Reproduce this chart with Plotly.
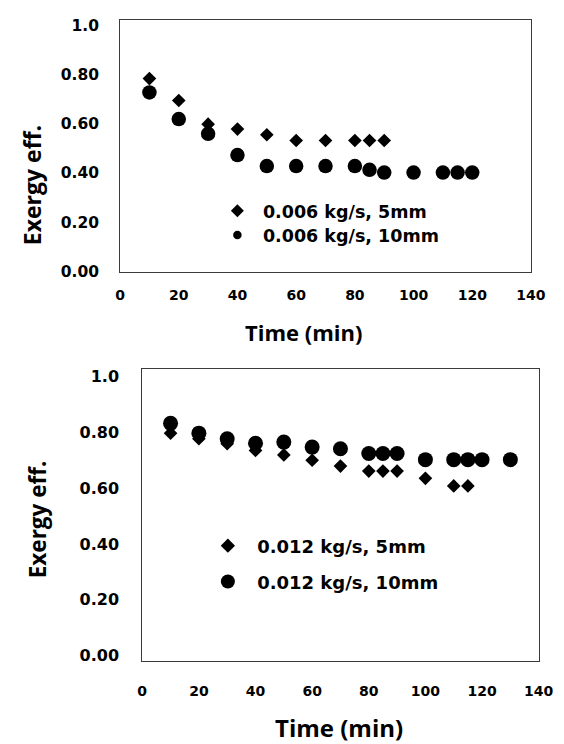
import plotly.graph_objects as go

# ---------------- data ----------------
time_ticks = [0, 20, 40, 60, 80, 100, 120, 140]
eff_tickvals = [0.0, 0.2, 0.4, 0.6, 0.8, 1.0]
eff_ticktext = ["0.00", "0.20", "0.40", "0.60", "0.80", "1.0"]

# top panel: 0.006 kg/s
top_t_5mm = [10, 20, 30, 40, 50, 60, 70, 80, 85, 90]
top_eff_5mm = [0.783, 0.694, 0.598, 0.578, 0.555, 0.532, 0.532, 0.532, 0.532, 0.532]
top_t_10mm = [10, 20, 30, 40, 50, 60, 70, 80, 85, 90, 100, 110, 115, 120]
top_eff_10mm = [0.727, 0.619, 0.559, 0.473, 0.428, 0.428, 0.428, 0.428, 0.413,
                0.402, 0.402, 0.402, 0.402, 0.402]

# bottom panel: 0.012 kg/s
bot_t_5mm = [10, 20, 30, 40, 50, 60, 70, 80, 85, 90, 100, 110, 115]
bot_eff_5mm = [0.797, 0.777, 0.759, 0.735, 0.719, 0.700, 0.679, 0.661, 0.661,
               0.661, 0.635, 0.608, 0.608]
bot_t_10mm = [10, 20, 30, 40, 50, 60, 70, 80, 85, 90, 100, 110, 115, 120, 130]
bot_eff_10mm = [0.832, 0.797, 0.777, 0.761, 0.765, 0.747, 0.741, 0.724, 0.724,
                0.724, 0.702, 0.702, 0.702, 0.702, 0.702]

top_labels = ["0.006 kg/s, 5mm", "0.006 kg/s, 10mm"]
bot_labels = ["0.012 kg/s, 5mm", "0.012 kg/s, 10mm"]

# ---------------- figure ----------------
W, H = 564, 744
def px(x):
    return x / W
def py(y):
    return 1 - y / H

TICKFONT = "DejaVu Sans"
TITLEFONT = "Open Sans"

fig = go.Figure()

# top panel data
fig.add_trace(go.Scatter(x=top_t_5mm, y=top_eff_5mm, mode="markers",
                         marker=dict(symbol="diamond", size=10.5, color="black"),
                         showlegend=False, xaxis="x", yaxis="y"))
fig.add_trace(go.Scatter(x=top_t_10mm, y=top_eff_10mm, mode="markers",
                         marker=dict(symbol="circle", size=14.5, color="black"),
                         showlegend=False, xaxis="x", yaxis="y"))
# bottom panel data
fig.add_trace(go.Scatter(x=bot_t_5mm, y=bot_eff_5mm, mode="markers",
                         marker=dict(symbol="diamond", size=10.5, color="black"),
                         showlegend=False, xaxis="x2", yaxis="y2"))
fig.add_trace(go.Scatter(x=bot_t_10mm, y=bot_eff_10mm, mode="markers",
                         marker=dict(symbol="circle", size=15, color="black"),
                         showlegend=False, xaxis="x2", yaxis="y2"))

# legend entries (one legend per entry for exact placement)
leg_specs = [
    ("legend", top_labels[0], "diamond", 10, "x", "y"),
    ("legend2", top_labels[1], "circle", 8.5, "x", "y"),
    ("legend3", bot_labels[0], "diamond", 11, "x2", "y2"),
    ("legend4", bot_labels[1], "circle", 14, "x2", "y2"),
]
for lg, name, sym, size, xa, ya in leg_specs:
    fig.add_trace(go.Scatter(x=[None], y=[None], mode="markers", name=name,
                             marker=dict(symbol=sym, size=size, color="black"),
                             legend=lg, showlegend=True, xaxis=xa, yaxis=ya))

axis_common = dict(showgrid=False, zeroline=False, showline=True, mirror=True,
                   linecolor="#3a3a3a", linewidth=1, ticks="",
                   tickfont=dict(family=TICKFONT, size=14, color="black", weight="bold"))

fig.update_layout(
    width=W, height=H,
    margin=dict(l=0, r=0, t=0, b=0),
    paper_bgcolor="white", plot_bgcolor="white",
    xaxis=dict(domain=[px(111), px(537)], range=[0, 140], tickvals=time_ticks,
               anchor="y", ticklabelstandoff=10, **axis_common),
    yaxis=dict(domain=[py(265), py(8.3)], range=[-0.003, 1.02], tickvals=eff_tickvals,
               ticktext=eff_ticktext, anchor="x", ticklabelstandoff=17,
               **{**axis_common, "tickfont": dict(family=TICKFONT, size=15.5, color="black", weight="bold")}),
    xaxis2=dict(domain=[px(134), px(545)], range=[0, 140], tickvals=time_ticks,
                anchor="y2", ticklabelstandoff=17, **axis_common),
    yaxis2=dict(domain=[py(661), py(363.3)], range=[-0.021, 1.027], tickvals=eff_tickvals,
                ticktext=eff_ticktext, anchor="x2", ticklabelstandoff=19,
                **{**axis_common, "tickfont": dict(family=TICKFONT, size=16, color="black", weight="bold")}),
)

def leg(xc, yc, fsize, itemwidth):
    center = (itemwidth + 10) / 2
    return dict(x=px(xc - center), y=py(yc), xanchor="left", yanchor="middle",
                xref="paper", yref="paper", bgcolor="rgba(0,0,0,0)", borderwidth=0,
                itemwidth=itemwidth, itemsizing="trace",
                font=dict(family=TICKFONT, size=fsize, color="black", weight="bold"))

fig.update_layout(
    legend=leg(231.7, 202.5, 17.5, 41),
    legend2=leg(231.7, 227, 17.5, 41),
    legend3=leg(221.7, 543.5, 18, 48.6),
    legend4=leg(221.7, 580, 18, 48.6),
)

title_font = dict(family=TITLEFONT, color="black", weight="bold")
fig.add_annotation(text="Time (min)", x=px(301), y=py(326), xref="paper", yref="paper",
                   showarrow=False, xanchor="center", yanchor="middle",
                   font=dict(size=22, **title_font))
fig.add_annotation(text="Time (min)", x=px(338.3), y=py(728.5), xref="paper", yref="paper",
                   showarrow=False, xanchor="center", yanchor="middle",
                   font=dict(size=24, **title_font))
fig.add_annotation(text="Exergy eff.", x=px(20), y=py(176), xref="paper", yref="paper",
                   showarrow=False, xanchor="center", yanchor="middle", textangle=-90,
                   font=dict(size=23, **title_font))
fig.add_annotation(text="Exergy eff.", x=px(25.5), y=py(516.7), xref="paper", yref="paper",
                   showarrow=False, xanchor="center", yanchor="middle", textangle=-90,
                   font=dict(size=22.5, **title_font))

fig.write_html("out.html")
